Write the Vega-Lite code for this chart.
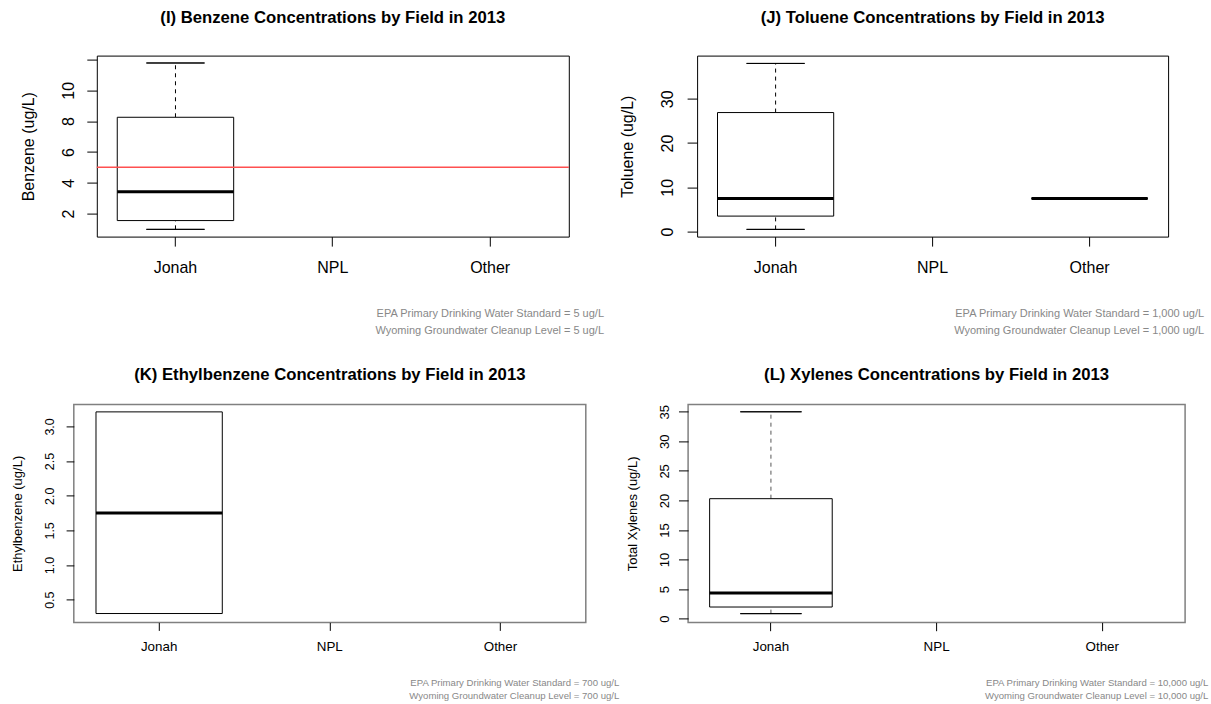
{
  "$schema": "https://vega.github.io/schema/vega-lite/v6.json",
  "background": "white",
  "padding": {"left": 0.5, "top": 8.6, "right": 0, "bottom": 0},
  "config": {
    "font": "Liberation Sans",
    "view": {"stroke": "black", "strokeWidth": 1},
    "axis": {"grid": false, "domain": false, "labelFont": "Liberation Sans", "titleFont": "Liberation Sans", "labelColor": "black", "titleColor": "black", "tickColor": "black", "titleFontWeight": "normal", "labelOverlap": false, "labelFlush": false},
    "title": {"font": "Liberation Sans", "fontSize": 16.7, "fontWeight": "bold", "color": "black", "frame": "group", "anchor": "middle", "baseline": "middle"}
  },
  "columns": 1,
  "align": "none",
  "spacing": {"row": 28.8, "column": 0},
  "concat": [
    {
      "columns": 3,
      "align": "none",
      "spacing": {"row": 0, "column": 13.3},
      "concat": [
        {"width": 5.5, "height": 1, "view": {"stroke": null}, "data": {"values": []}, "mark": {"type": "point", "opacity": 0}},
        {
          "width": 472, "height": 181,
          "title": {"text": "(I) Benzene Concentrations by Field in 2013", "offset": 29},
          "data": {"values": [{"field": "Jonah", "lo": 0.98, "q1": 1.55, "med": 3.42, "q3": 8.25, "hi": 11.77}]},
          "layer": [
            {"mark": {"type": "rule", "strokeDash": [4, 4], "color": "black"},
             "encoding": {
               "x": {"field": "field", "type": "nominal", "scale": {"domain": ["Jonah", "NPL", "Other"], "paddingInner": 0.26, "paddingOuter": 0.13},
                 "axis": {"labelAngle": 0, "labelFontSize": 16, "tickSize": 9.5, "labelPadding": 21, "labelBaseline": "middle", "labelOverlap": false,
                   "title": ["EPA Primary Drinking Water Standard = 5 ug/L", "Wyoming Groundwater Cleanup Level = 5 ug/L"],
                   "titleFontSize": 11, "titleColor": "#888888", "titleAlign": "right", "titleBaseline": "middle", "titleX": 506.7, "titleY": 77.2, "titleLineHeight": 16.7}},
               "y": {"field": "lo", "type": "quantitative", "scale": {"domain": [0.51, 12.25], "nice": false, "zero": false},
                 "axis": {"title": "Benzene (ug/L)", "titleFontSize": 16, "titleX": -68.3, "titleY": 90.6, "titleBaseline": "middle", "titleAlign": "center", "values": [2, 4, 6, 8, 10, 12], "labelExpr": "datum.value == 12 ? '' : datum.label", "labelAngle": -90, "labelAlign": "center", "labelBaseline": "middle", "labelFontSize": 16, "tickSize": 10, "labelPadding": 18, "labelOverlap": false}},
               "y2": {"field": "q1"}}},
            {"mark": {"type": "rule", "strokeDash": [4, 4], "color": "black"},
             "encoding": {"x": {"field": "field", "type": "nominal"},
               "y": {"field": "q3", "type": "quantitative", "scale": {"domain": [0.51, 12.25], "nice": false, "zero": false},
                 "axis": {"title": "Benzene (ug/L)", "titleFontSize": 16, "titleX": -68.3, "titleY": 90.6, "titleBaseline": "middle", "titleAlign": "center", "values": [2, 4, 6, 8, 10, 12], "labelExpr": "datum.value == 12 ? '' : datum.label", "labelAngle": -90, "labelAlign": "center", "labelBaseline": "middle", "labelFontSize": 16, "tickSize": 10, "labelPadding": 18, "labelOverlap": false}},
               "y2": {"field": "hi"}}},
            {"mark": {"type": "bar", "fill": "white", "stroke": "black", "strokeWidth": 1},
             "encoding": {"x": {"field": "field", "type": "nominal"},
               "y": {"field": "q1", "type": "quantitative", "scale": {"domain": [0.51, 12.25], "nice": false, "zero": false},
                 "axis": {"title": "Benzene (ug/L)", "titleFontSize": 16, "titleX": -68.3, "titleY": 90.6, "titleBaseline": "middle", "titleAlign": "center", "values": [2, 4, 6, 8, 10, 12], "labelExpr": "datum.value == 12 ? '' : datum.label", "labelAngle": -90, "labelAlign": "center", "labelBaseline": "middle", "labelFontSize": 16, "tickSize": 10, "labelPadding": 18, "labelOverlap": false}},
               "y2": {"field": "q3"}}},
            {"mark": {"type": "bar", "width": {"band": 0.5}, "fill": "white", "stroke": "black", "strokeWidth": 1},
             "encoding": {"x": {"field": "field", "type": "nominal"},
               "y": {"field": "lo", "type": "quantitative", "scale": {"domain": [0.51, 12.25], "nice": false, "zero": false},
                 "axis": {"title": "Benzene (ug/L)", "titleFontSize": 16, "titleX": -68.3, "titleY": 90.6, "titleBaseline": "middle", "titleAlign": "center", "values": [2, 4, 6, 8, 10, 12], "labelExpr": "datum.value == 12 ? '' : datum.label", "labelAngle": -90, "labelAlign": "center", "labelBaseline": "middle", "labelFontSize": 16, "tickSize": 10, "labelPadding": 18, "labelOverlap": false}},
               "y2": {"field": "lo"}}},
            {"mark": {"type": "bar", "width": {"band": 0.5}, "fill": "white", "stroke": "black", "strokeWidth": 1},
             "encoding": {"x": {"field": "field", "type": "nominal"},
               "y": {"field": "hi", "type": "quantitative", "scale": {"domain": [0.51, 12.25], "nice": false, "zero": false},
                 "axis": {"title": "Benzene (ug/L)", "titleFontSize": 16, "titleX": -68.3, "titleY": 90.6, "titleBaseline": "middle", "titleAlign": "center", "values": [2, 4, 6, 8, 10, 12], "labelExpr": "datum.value == 12 ? '' : datum.label", "labelAngle": -90, "labelAlign": "center", "labelBaseline": "middle", "labelFontSize": 16, "tickSize": 10, "labelPadding": 18, "labelOverlap": false}},
               "y2": {"field": "hi"}}},
            {"mark": {"type": "bar", "fill": "black", "stroke": "black", "strokeWidth": 3},
             "encoding": {"x": {"field": "field", "type": "nominal"},
               "y": {"field": "med", "type": "quantitative", "scale": {"domain": [0.51, 12.25], "nice": false, "zero": false},
                 "axis": {"title": "Benzene (ug/L)", "titleFontSize": 16, "titleX": -68.3, "titleY": 90.6, "titleBaseline": "middle", "titleAlign": "center", "values": [2, 4, 6, 8, 10, 12], "labelExpr": "datum.value == 12 ? '' : datum.label", "labelAngle": -90, "labelAlign": "center", "labelBaseline": "middle", "labelFontSize": 16, "tickSize": 10, "labelPadding": 18, "labelOverlap": false}},
               "y2": {"field": "med"}}},
            {"mark": {"type": "rule", "color": "#ff5050", "strokeWidth": 1.5},
             "encoding": {
               "y": {"datum": 5, "type": "quantitative", "scale": {"domain": [0.51, 12.25], "nice": false, "zero": false},
                 "axis": {"title": "Benzene (ug/L)", "titleFontSize": 16, "titleX": -68.3, "titleY": 90.6, "titleBaseline": "middle", "titleAlign": "center", "values": [2, 4, 6, 8, 10, 12], "labelExpr": "datum.value == 12 ? '' : datum.label", "labelAngle": -90, "labelAlign": "center", "labelBaseline": "middle", "labelFontSize": 16, "tickSize": 10, "labelPadding": 18, "labelOverlap": false}}}}
          ]
        },
        {
          "width": 471, "height": 181,
          "title": {"text": "(J) Toluene Concentrations by Field in 2013", "offset": 29},
          "data": {"values": [
            {"field": "Jonah", "lo": 0.5, "q1": 3.5, "med": 7.5, "q3": 26.9, "hi": 38.0},
            {"field": "Other", "lo": 7.5, "q1": 7.5, "med": 7.5, "q3": 7.5, "hi": 7.5}
          ]},
          "encoding": {
            "x": {"field": "field", "type": "nominal", "scale": {"domain": ["Jonah", "NPL", "Other"], "paddingInner": 0.26, "paddingOuter": 0.13},
              "axis": {"labelAngle": 0, "labelFontSize": 16, "tickSize": 9.5, "labelPadding": 21, "labelBaseline": "middle", "labelOverlap": false,
                "title": ["EPA Primary Drinking Water Standard = 1,000 ug/L", "Wyoming Groundwater Cleanup Level = 1,000 ug/L"],
                "titleFontSize": 11, "titleColor": "#888888", "titleAlign": "right", "titleBaseline": "middle", "titleX": 506.5, "titleY": 77.2, "titleLineHeight": 16.7}}
          },
          "layer": [
            {"mark": {"type": "rule", "strokeDash": [4, 4], "color": "black"},
             "encoding": {"y": {"field": "lo", "type": "quantitative", "scale": {"domain": [-1.13, 39.77], "nice": false, "zero": false},
               "axis": {"title": "Toluene (ug/L)", "titleFontSize": 16, "titleX": -69.7, "titleY": 90.6, "titleBaseline": "middle", "titleAlign": "center", "values": [0, 10, 20, 30], "labelAngle": -90, "labelAlign": "center", "labelBaseline": "middle", "labelFontSize": 16, "tickSize": 10, "labelPadding": 19.6, "labelOverlap": false}},
               "y2": {"field": "q1"}}},
            {"mark": {"type": "rule", "strokeDash": [4, 4], "color": "black"},
             "encoding": {"y": {"field": "q3", "type": "quantitative", "scale": {"domain": [-1.13, 39.77], "nice": false, "zero": false},
               "axis": {"title": "Toluene (ug/L)", "titleFontSize": 16, "titleX": -69.7, "titleY": 90.6, "titleBaseline": "middle", "titleAlign": "center", "values": [0, 10, 20, 30], "labelAngle": -90, "labelAlign": "center", "labelBaseline": "middle", "labelFontSize": 16, "tickSize": 10, "labelPadding": 19.6, "labelOverlap": false}},
               "y2": {"field": "hi"}}},
            {"mark": {"type": "bar", "fill": "white", "stroke": "black", "strokeWidth": 1},
             "encoding": {"y": {"field": "q1", "type": "quantitative", "scale": {"domain": [-1.13, 39.77], "nice": false, "zero": false},
               "axis": {"title": "Toluene (ug/L)", "titleFontSize": 16, "titleX": -69.7, "titleY": 90.6, "titleBaseline": "middle", "titleAlign": "center", "values": [0, 10, 20, 30], "labelAngle": -90, "labelAlign": "center", "labelBaseline": "middle", "labelFontSize": 16, "tickSize": 10, "labelPadding": 19.6, "labelOverlap": false}},
               "y2": {"field": "q3"}}},
            {"mark": {"type": "bar", "width": {"band": 0.5}, "fill": "white", "stroke": "black", "strokeWidth": 1},
             "encoding": {"y": {"field": "lo", "type": "quantitative", "scale": {"domain": [-1.13, 39.77], "nice": false, "zero": false},
               "axis": {"title": "Toluene (ug/L)", "titleFontSize": 16, "titleX": -69.7, "titleY": 90.6, "titleBaseline": "middle", "titleAlign": "center", "values": [0, 10, 20, 30], "labelAngle": -90, "labelAlign": "center", "labelBaseline": "middle", "labelFontSize": 16, "tickSize": 10, "labelPadding": 19.6, "labelOverlap": false}},
               "y2": {"field": "lo"}}},
            {"mark": {"type": "bar", "width": {"band": 0.5}, "fill": "white", "stroke": "black", "strokeWidth": 1},
             "encoding": {"y": {"field": "hi", "type": "quantitative", "scale": {"domain": [-1.13, 39.77], "nice": false, "zero": false},
               "axis": {"title": "Toluene (ug/L)", "titleFontSize": 16, "titleX": -69.7, "titleY": 90.6, "titleBaseline": "middle", "titleAlign": "center", "values": [0, 10, 20, 30], "labelAngle": -90, "labelAlign": "center", "labelBaseline": "middle", "labelFontSize": 16, "tickSize": 10, "labelPadding": 19.6, "labelOverlap": false}},
               "y2": {"field": "hi"}}},
            {"mark": {"type": "bar", "fill": "black", "stroke": "black", "strokeWidth": 3},
             "encoding": {"y": {"field": "med", "type": "quantitative", "scale": {"domain": [-1.13, 39.77], "nice": false, "zero": false},
               "axis": {"title": "Toluene (ug/L)", "titleFontSize": 16, "titleX": -69.7, "titleY": 90.6, "titleBaseline": "middle", "titleAlign": "center", "values": [0, 10, 20, 30], "labelAngle": -90, "labelAlign": "center", "labelBaseline": "middle", "labelFontSize": 16, "tickSize": 10, "labelPadding": 19.6, "labelOverlap": false}},
               "y2": {"field": "med"}}}
          ]
        }
      ]
    },
    {
      "columns": 3,
      "align": "none",
      "spacing": {"row": 0, "column": 5.3},
      "concat": [
        {"width": 4.5, "height": 1, "view": {"stroke": null}, "data": {"values": []}, "mark": {"type": "point", "opacity": 0}},
        {
          "width": 512, "height": 218,
          "view": {"stroke": "#808080", "strokeWidth": 1.5},
          "title": {"text": "(K) Ethylbenzene Concentrations by Field in 2013", "offset": 21},
          "data": {"values": [{"field": "Jonah", "lo": 0.30, "q1": 0.30, "med": 1.75, "q3": 3.21, "hi": 3.21}]},
          "encoding": {
            "x": {"field": "field", "type": "nominal", "scale": {"domain": ["Jonah", "NPL", "Other"], "paddingInner": 0.26, "paddingOuter": 0.13},
              "axis": {"labelAngle": 0, "labelFontSize": 13.4, "tickSize": 8, "labelPadding": 16.5, "labelBaseline": "middle", "labelOverlap": false,
                "title": ["EPA Primary Drinking Water Standard = 700 ug/L", "Wyoming Groundwater Cleanup Level = 700 ug/L"],
                "titleFontSize": 9.6, "titleColor": "#888888", "titleAlign": "right", "titleBaseline": "middle", "titleX": 545, "titleY": 59.8, "titleLineHeight": 13.4}}
          },
          "layer": [
            {"mark": {"type": "bar", "fill": "white", "stroke": "black", "strokeWidth": 1},
             "encoding": {"y": {"field": "q1", "type": "quantitative", "scale": {"domain": [0.172, 3.318], "nice": false, "zero": false},
               "axis": {"title": "Ethylbenzene (ug/L)", "titleFontSize": 13, "titleX": -55.9, "titleY": 109, "titleBaseline": "middle", "titleAlign": "center", "values": [0.5, 1.0, 1.5, 2.0, 2.5, 3.0], "format": ".1f", "labelAngle": -90, "labelAlign": "center", "labelBaseline": "middle", "labelFontSize": 12.5, "tickSize": 7.7, "labelPadding": 17, "labelOverlap": false}},
               "y2": {"field": "q3"}}},
            {"mark": {"type": "bar", "fill": "black", "stroke": "black", "strokeWidth": 3},
             "encoding": {"y": {"field": "med", "type": "quantitative", "scale": {"domain": [0.172, 3.318], "nice": false, "zero": false},
               "axis": {"title": "Ethylbenzene (ug/L)", "titleFontSize": 13, "titleX": -55.9, "titleY": 109, "titleBaseline": "middle", "titleAlign": "center", "values": [0.5, 1.0, 1.5, 2.0, 2.5, 3.0], "format": ".1f", "labelAngle": -90, "labelAlign": "center", "labelBaseline": "middle", "labelFontSize": 12.5, "tickSize": 7.7, "labelPadding": 17, "labelOverlap": false}},
               "y2": {"field": "med"}}}
          ]
        },
        {
          "width": 497, "height": 218,
          "view": {"stroke": "#808080", "strokeWidth": 1.5},
          "title": {"text": "(L) Xylenes Concentrations by Field in 2013", "offset": 21},
          "data": {"values": [{"field": "Jonah", "lo": 0.85, "q1": 1.97, "med": 4.35, "q3": 20.3, "hi": 35.0}]},
          "encoding": {
            "x": {"field": "field", "type": "nominal", "scale": {"domain": ["Jonah", "NPL", "Other"], "paddingInner": 0.26, "paddingOuter": 0.13},
              "axis": {"labelAngle": 0, "labelFontSize": 13.4, "tickSize": 8.3, "labelPadding": 16.2, "labelBaseline": "middle", "labelOverlap": false,
                "title": ["EPA Primary Drinking Water Standard = 10,000 ug/L", "Wyoming Groundwater Cleanup Level = 10,000 ug/L"],
                "titleFontSize": 9.6, "titleColor": "#888888", "titleAlign": "right", "titleBaseline": "middle", "titleX": 519.7, "titleY": 59.8, "titleLineHeight": 13.4}}
          },
          "layer": [
            {"mark": {"type": "rule", "strokeDash": [4, 4], "color": "#555555"},
             "encoding": {"y": {"field": "lo", "type": "quantitative", "scale": {"domain": [-0.63, 36.25], "nice": false, "zero": false},
               "axis": {"title": "Total Xylenes (ug/L)", "titleFontSize": 13, "titleX": -55.3, "titleY": 109, "titleBaseline": "middle", "titleAlign": "center", "values": [0, 5, 10, 15, 20, 25, 30, 35], "labelAngle": -90, "labelAlign": "center", "labelBaseline": "middle", "labelFontSize": 13, "tickSize": 9.6, "labelPadding": 14, "labelOverlap": false}},
               "y2": {"field": "q1"}}},
            {"mark": {"type": "rule", "strokeDash": [4, 4], "color": "#555555"},
             "encoding": {"y": {"field": "q3", "type": "quantitative", "scale": {"domain": [-0.63, 36.25], "nice": false, "zero": false},
               "axis": {"title": "Total Xylenes (ug/L)", "titleFontSize": 13, "titleX": -55.3, "titleY": 109, "titleBaseline": "middle", "titleAlign": "center", "values": [0, 5, 10, 15, 20, 25, 30, 35], "labelAngle": -90, "labelAlign": "center", "labelBaseline": "middle", "labelFontSize": 13, "tickSize": 9.6, "labelPadding": 14, "labelOverlap": false}},
               "y2": {"field": "hi"}}},
            {"mark": {"type": "bar", "fill": "white", "stroke": "black", "strokeWidth": 1},
             "encoding": {"y": {"field": "q1", "type": "quantitative", "scale": {"domain": [-0.63, 36.25], "nice": false, "zero": false},
               "axis": {"title": "Total Xylenes (ug/L)", "titleFontSize": 13, "titleX": -55.3, "titleY": 109, "titleBaseline": "middle", "titleAlign": "center", "values": [0, 5, 10, 15, 20, 25, 30, 35], "labelAngle": -90, "labelAlign": "center", "labelBaseline": "middle", "labelFontSize": 13, "tickSize": 9.6, "labelPadding": 14, "labelOverlap": false}},
               "y2": {"field": "q3"}}},
            {"mark": {"type": "bar", "width": {"band": 0.5}, "fill": "white", "stroke": "black", "strokeWidth": 1},
             "encoding": {"y": {"field": "lo", "type": "quantitative", "scale": {"domain": [-0.63, 36.25], "nice": false, "zero": false},
               "axis": {"title": "Total Xylenes (ug/L)", "titleFontSize": 13, "titleX": -55.3, "titleY": 109, "titleBaseline": "middle", "titleAlign": "center", "values": [0, 5, 10, 15, 20, 25, 30, 35], "labelAngle": -90, "labelAlign": "center", "labelBaseline": "middle", "labelFontSize": 13, "tickSize": 9.6, "labelPadding": 14, "labelOverlap": false}},
               "y2": {"field": "lo"}}},
            {"mark": {"type": "bar", "width": {"band": 0.5}, "fill": "white", "stroke": "black", "strokeWidth": 1},
             "encoding": {"y": {"field": "hi", "type": "quantitative", "scale": {"domain": [-0.63, 36.25], "nice": false, "zero": false},
               "axis": {"title": "Total Xylenes (ug/L)", "titleFontSize": 13, "titleX": -55.3, "titleY": 109, "titleBaseline": "middle", "titleAlign": "center", "values": [0, 5, 10, 15, 20, 25, 30, 35], "labelAngle": -90, "labelAlign": "center", "labelBaseline": "middle", "labelFontSize": 13, "tickSize": 9.6, "labelPadding": 14, "labelOverlap": false}},
               "y2": {"field": "hi"}}},
            {"mark": {"type": "bar", "fill": "black", "stroke": "black", "strokeWidth": 3},
             "encoding": {"y": {"field": "med", "type": "quantitative", "scale": {"domain": [-0.63, 36.25], "nice": false, "zero": false},
               "axis": {"title": "Total Xylenes (ug/L)", "titleFontSize": 13, "titleX": -55.3, "titleY": 109, "titleBaseline": "middle", "titleAlign": "center", "values": [0, 5, 10, 15, 20, 25, 30, 35], "labelAngle": -90, "labelAlign": "center", "labelBaseline": "middle", "labelFontSize": 13, "tickSize": 9.6, "labelPadding": 14, "labelOverlap": false}},
               "y2": {"field": "med"}}}
          ]
        }
      ]
    }
  ]
}
